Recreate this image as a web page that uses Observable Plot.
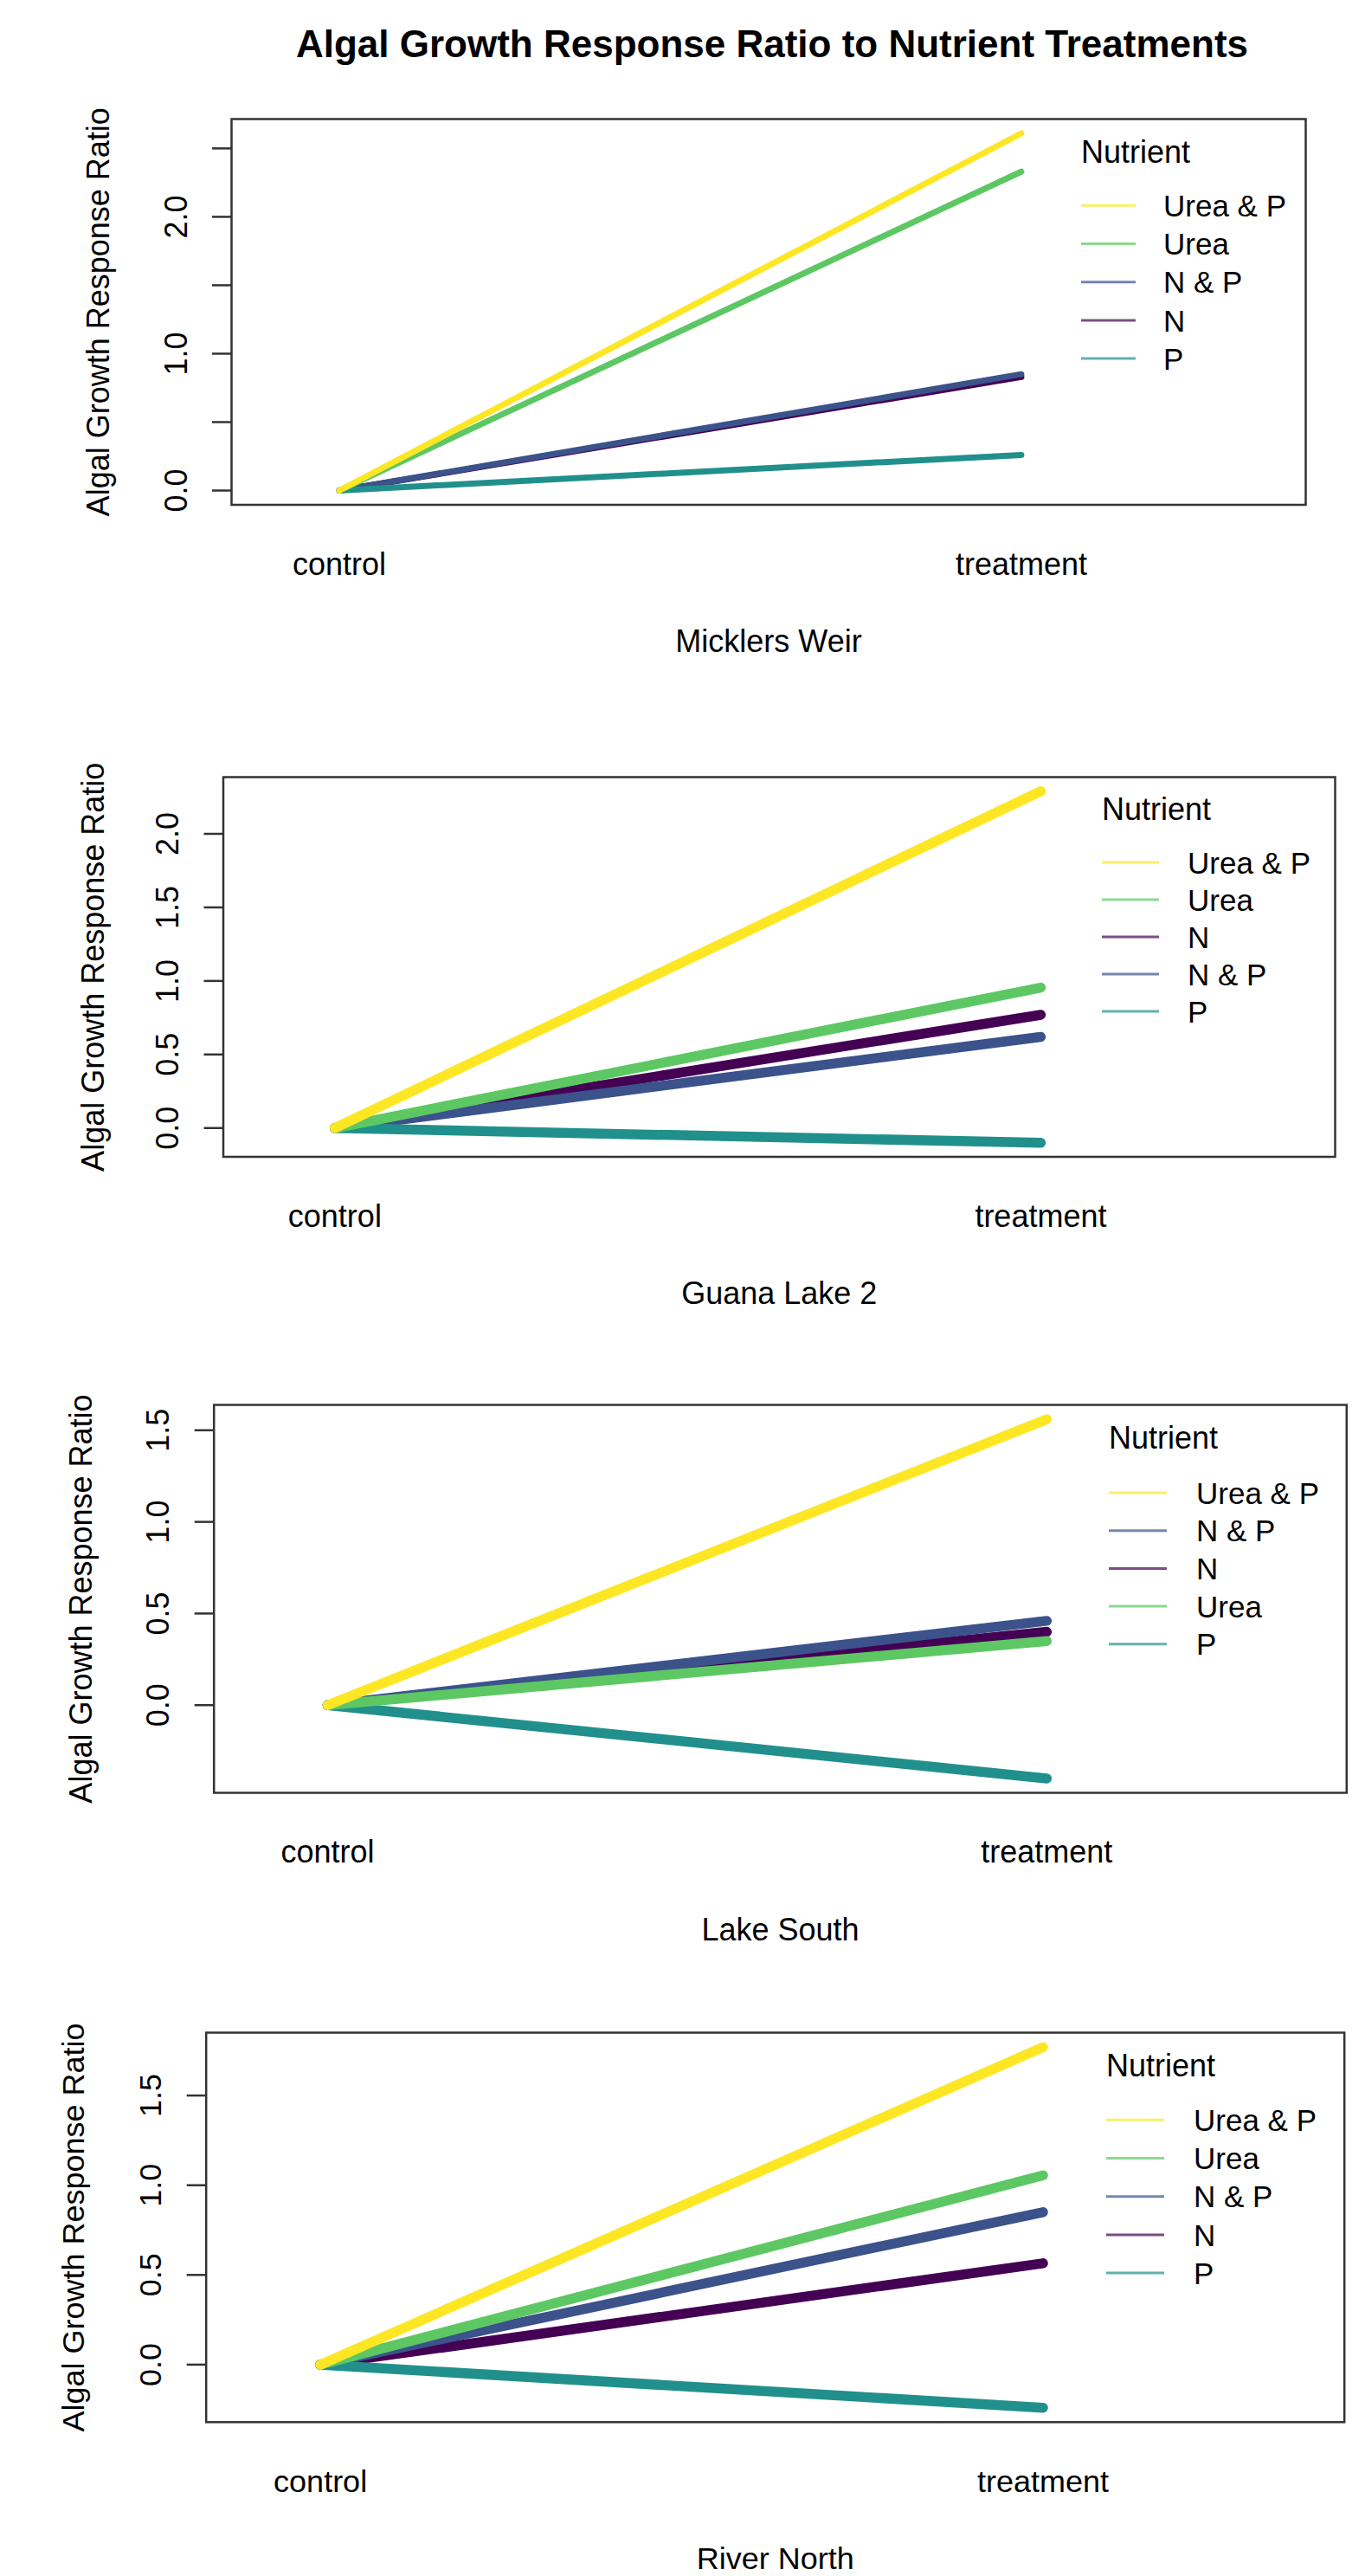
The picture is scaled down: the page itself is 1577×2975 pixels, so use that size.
<!DOCTYPE html>
<html>
<head>
<meta charset="utf-8">
<script src="https://cdn.jsdelivr.net/npm/d3@7"></script>
<script src="https://cdn.jsdelivr.net/npm/@observablehq/plot@0.6"></script>
<style>
  html, body { margin: 0; padding: 0; background: #fff; }
  #page { position: relative; width: 1577px; height: 2975px; background: #fff;
          font-family: "Liberation Sans", Arial, Helvetica, sans-serif; color: #000; }
  #title { position: absolute; left: 292px; width: 1200px; top: 27px; text-align: center;
           font-weight: bold; font-size: 44px; line-height: 48px; }
  .panel { position: absolute; left: 0; }
</style>
</head>
<body>
<div id="page"><div id="title"></div></div>
<script>
// ---------------- data ----------------
const chartTitle = "Algal Growth Response Ratio to Nutrient Treatments";
const yAxisLabel = "Algal Growth Response Ratio";
const legendTitle = "Nutrient";
const sites = ["Micklers Weir", "Guana Lake 2", "Lake South", "River North"];
const conditions = ["control", "treatment"];
const nutrients = ["N", "N & P", "P", "Urea", "Urea & P"];
const nutrientColors = ["#440154", "#3B528B", "#21908C", "#5DC863", "#FDE725"];

// values per site, in the order of `nutrients`
const controlValues = [
  [0, 0, 0, 0, 0],
  [0, 0, 0, 0, 0],
  [0, 0, 0, 0, 0],
  [0, 0, 0, 0, 0]
];
const treatmentValues = [
  [0.83, 0.85, 0.26, 2.33, 2.61],   // Micklers Weir
  [0.77, 0.62, -0.10, 0.955, 2.29], // Guana Lake 2
  [0.40, 0.46, -0.40, 0.35, 1.56],  // Lake South
  [0.565, 0.85, -0.24, 1.055, 1.77] // River North
];
// legend order per site
const legendOrders = [
  ["Urea & P", "Urea", "N & P", "N", "P"],
  ["Urea & P", "Urea", "N", "N & P", "P"],
  ["Urea & P", "N & P", "N", "Urea", "P"],
  ["Urea & P", "Urea", "N & P", "N", "P"]
];
const yTicks = [
  [0, 0.5, 1, 1.5, 2, 2.5],
  [0, 0.5, 1, 1.5, 2],
  [0, 0.5, 1, 1.5],
  [0, 0.5, 1, 1.5]
];
const yTickLabels = [
  ["0.0", "", "1.0", "", "2.0", ""],
  ["0.0", "0.5", "1.0", "1.5", "2.0"],
  ["0.0", "0.5", "1.0", "1.5"],
  ["0.0", "0.5", "1.0", "1.5"]
];

// ---------------- layout ----------------
const W = 1577;
const frames = [ // left, right, top, bottom of each plot box (page px)
  {L: 267, R: 1508, T: 136.5, B: 582},
  {L: 257.5, R: 1542, T: 897, B: 1335.5},
  {L: 246.7, R: 1555.3, T: 1622, B: 2070},
  {L: 237.7, R: 1552.7, T: 2346.7, B: 2796.5}
];
const lineWidths = [7, 11.5, 11.5, 11.5];
const yLabelOffsets = [153, 150, 153, 153];
const xDomain = [0.842, 2.417];
const legendLayout = [
  {tx: 1249, ty: 175, x1: 1249, x2: 1312, lx: 1344, y0: 237.3, dy: 44.2},
  {tx: 1273, ty: 934, x1: 1273, x2: 1339, lx: 1372, y0: 996, dy: 43},
  {tx: 1281, ty: 1660, x1: 1281, x2: 1348, lx: 1382, y0: 1724, dy: 43.7},
  {tx: 1278, ty: 2385, x1: 1278, x2: 1345, lx: 1379, y0: 2448.3, dy: 44.2}
];
const FONT = "'Liberation Sans', Arial, Helvetica, sans-serif";

document.getElementById("title").textContent = chartTitle;
const page = document.getElementById("page");

sites.forEach((site, i) => {
  const rows = [];
  nutrients.forEach((n, j) => {
    rows.push({nutrient: n, cond: 1, value: controlValues[i][j]});
    rows.push({nutrient: n, cond: 2, value: treatmentValues[i][j]});
  });
  const vals = rows.map(d => d.value);
  const lo = d3.min(vals), hi = d3.max(vals);
  const pad = 0.04 * (hi - lo);
  const f = frames[i];
  const mt = 30, mb = 200;
  const ticks = yTicks[i], labels = yTickLabels[i];

  const svg = Plot.plot({
    width: W,
    height: (f.B - f.T) + mt + mb,
    marginLeft: f.L,
    marginRight: W - f.R,
    marginTop: mt,
    marginBottom: mb,
    style: {fontFamily: FONT, fontSize: "36px", color: "#000", background: "transparent", overflow: "visible"},
    x: {domain: xDomain},
    y: {domain: [lo - pad, hi + pad]},
    color: {domain: nutrients, range: nutrientColors},
    marks: [
      Plot.line(rows, {x: "cond", y: "value", z: "nutrient", stroke: "nutrient",
        strokeWidth: lineWidths[i], strokeLinecap: "round", strokeLinejoin: "round"}),
      Plot.frame({stroke: "#333", strokeWidth: 2.5}),
      Plot.axisY({ticks: ticks, tickSize: 22, tickPadding: 30, tickRotate: -90,
        tickFormat: d => labels[ticks.indexOf(d)], label: null,
        stroke: "#333", strokeWidth: 2.5, fontSize: 36, fill: "#000"}),
      Plot.axisX({ticks: [1, 2], tickSize: 0, tickPadding: 55,
        tickFormat: d => conditions[d - 1], label: null, fontSize: 36, fill: "#000"}),
      Plot.text([yAxisLabel], {frameAnchor: "left", dx: -yLabelOffsets[i], rotate: -90,
        textAnchor: "middle", lineAnchor: "middle", text: d => d, fontSize: 36, fill: "#000"}),
      Plot.text([site], {frameAnchor: "bottom", dy: 170, lineAnchor: "bottom",
        textAnchor: "middle", text: d => d, fontSize: 36, fill: "#000"})
    ]
  });
  svg.classList.add("panel");
  svg.style.top = (f.T - mt) + "px";
  page.appendChild(svg);
});

// legends (overlay)
const color = d3.scaleOrdinal(nutrients, nutrientColors);
const ov = d3.select(page).append("svg")
  .attr("width", W).attr("height", 2975)
  .style("position", "absolute").style("left", 0).style("top", 0)
  .style("pointer-events", "none")
  .attr("font-family", FONT);
legendOrders.forEach((order, i) => {
  const g = legendLayout[i];
  ov.append("text").attr("x", g.tx).attr("y", g.ty).attr("dy", "0.36em")
    .attr("font-size", 36).attr("fill", "#000").text(legendTitle);
  order.forEach((n, k) => {
    const y = g.y0 + k * g.dy;
    ov.append("line").attr("x1", g.x1).attr("x2", g.x2).attr("y1", y).attr("y2", y)
      .attr("stroke", color(n)).attr("stroke-width", 3).attr("stroke-opacity", 0.7);
    ov.append("text").attr("x", g.lx).attr("y", y).attr("dy", "0.36em")
      .attr("font-size", 35).attr("fill", "#000").text(n);
  });
});
</script>
</body>
</html>
